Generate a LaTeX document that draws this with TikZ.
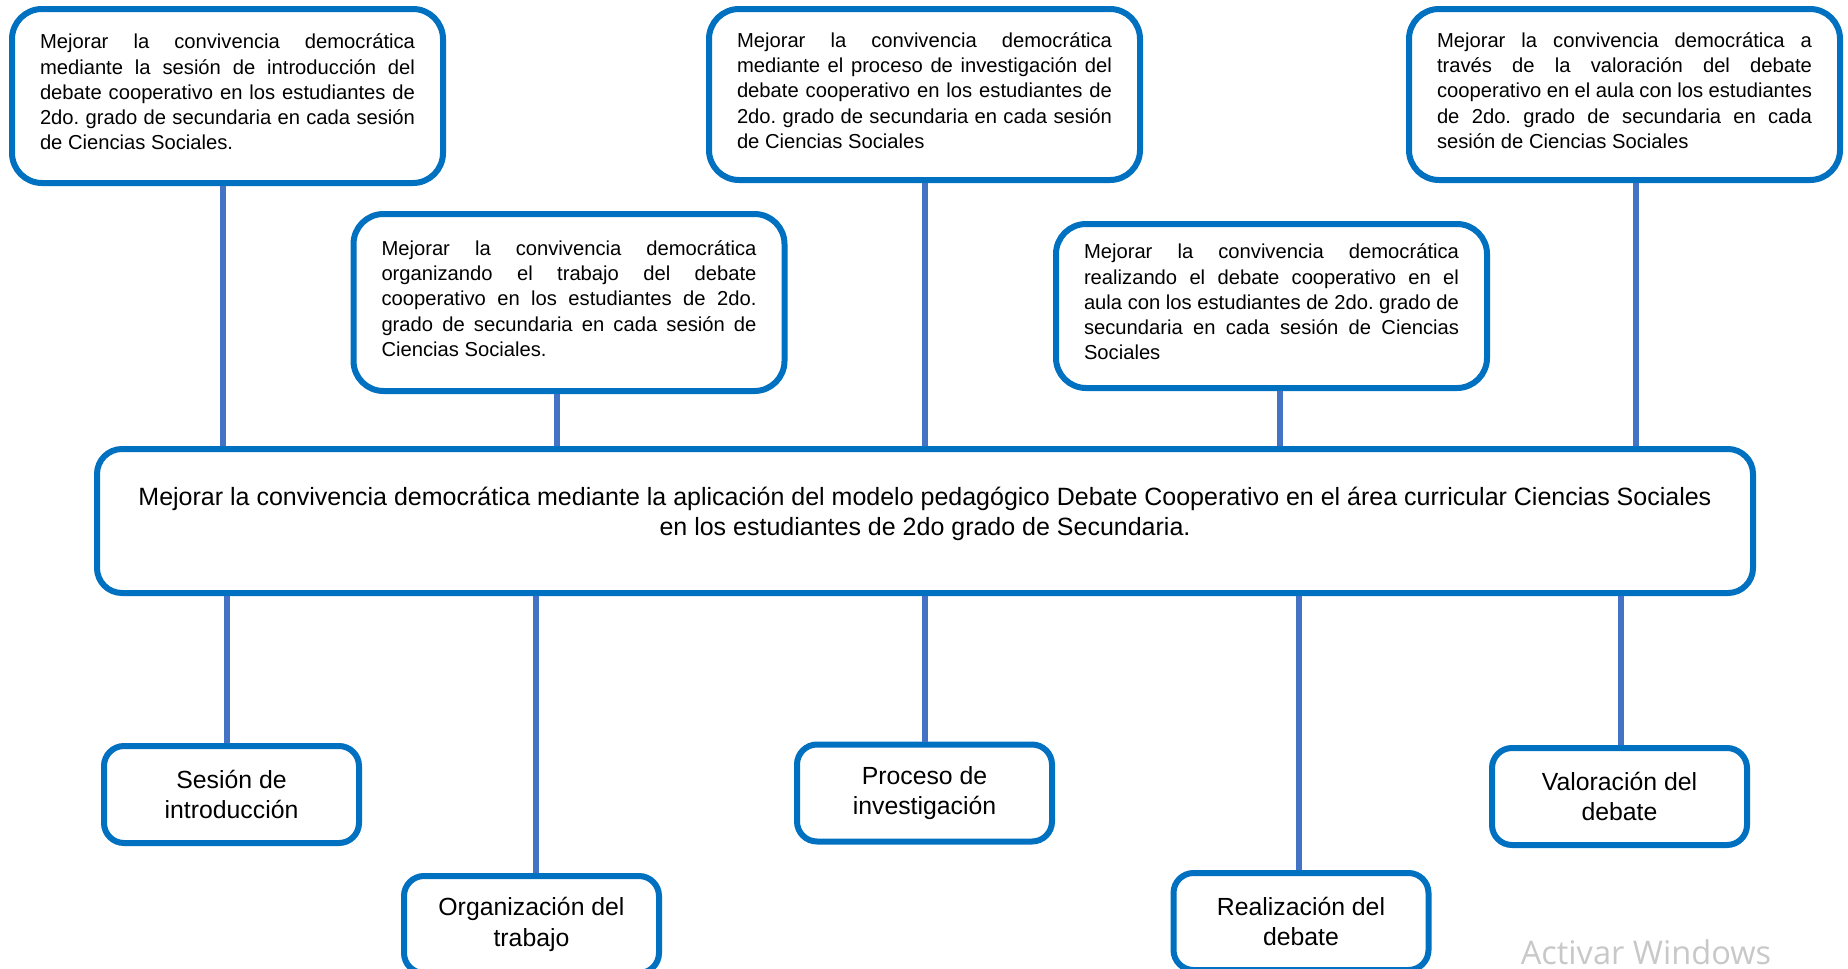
\documentclass[tikz,border=0pt]{standalone}
\usepackage{fontspec}
\setmainfont{Liberation Sans}
\newfontfamily\wmfont{Open Sans}
\setlength{\parindent}{0pt}
\tolerance=10000
\hyphenpenalty=10000
\exhyphenpenalty=10000
\frenchspacing
\definecolor{boxblue}{HTML}{0070C0}
\definecolor{linkblue}{HTML}{4472C4}
\definecolor{wmgray}{RGB}{200,200,200}
\tikzset{
  goalbox/.style={draw=boxblue, line width=3pt, fill=white, rounded corners=15pt,
    text width=187.5pt, minimum width=215.5pt, inner sep=0pt, align=justify,
    execute at end node={\par\vspace*{4pt}},
    font=\fontsize{10.1}{12.6}\selectfont},
  mainbox/.style={draw=boxblue, line width=3pt, fill=white, rounded corners=12.5pt,
    minimum width=828pt, minimum height=72pt, align=center, inner sep=0pt,
    text depth=9.6pt, font=\fontsize{12.5}{15.3}\selectfont},
  stagebox/.style={draw=boxblue, line width=3pt, fill=white, rounded corners=10pt,
    minimum width=127.5pt, minimum height=48.5pt, align=center, inner sep=0pt,
    font=\fontsize{12.4}{15.3}\selectfont},
  link/.style={draw=linkblue, line width=3pt}
}
\begin{document}
\begin{tikzpicture}[x=0.5pt,y=-0.5pt]
\useasboundingbox (0,0) rectangle (1848,969);

% objetivos especificos
\node[goalbox, minimum height=87pt] (obj1) at (227.5,96) {Mejorar la convivencia democrática\linebreak mediante la sesión de introducción del\linebreak debate cooperativo en los estudiantes de\linebreak 2do. grado de secundaria en cada sesión\linebreak de Ciencias Sociales.};
\node[goalbox, minimum height=88.5pt] (obj2) at (569,302.5) {Mejorar la convivencia democrática\linebreak organizando el trabajo del debate\linebreak cooperativo en los estudiantes de 2do.\linebreak grado de secundaria en cada sesión de\linebreak Ciencias Sociales.};
\node[goalbox, minimum height=85.5pt] (obj3) at (924.5,94.5) {Mejorar la convivencia democrática\linebreak mediante el proceso de investigación del\linebreak debate cooperativo en los estudiantes de\linebreak 2do. grado de secundaria en cada sesión\linebreak de Ciencias Sociales};
\node[goalbox, minimum height=82pt] (obj4) at (1271.5,306) {Mejorar la convivencia democrática\linebreak realizando el debate cooperativo en el\linebreak aula con los estudiantes de 2do. grado de\linebreak secundaria en cada sesión de Ciencias\linebreak Sociales};
\node[goalbox, minimum height=85.5pt] (obj5) at (1624.5,94.5) {Mejorar la convivencia democrática a\linebreak través de la valoración del debate\linebreak cooperativo en el aula con los estudiantes\linebreak de 2do. grado de secundaria en cada\linebreak sesión de Ciencias Sociales};

% objetivo general
\node[mainbox] (general) at (925,521) {Mejorar la convivencia democrática mediante la aplicación del modelo pedagógico Debate Cooperativo en el área curricular Ciencias Sociales\\en los estudiantes de 2do grado de Secundaria.};

% etapas
\node[stagebox] (sesion) at (231.5,794.5) {Sesión de\\introducción};
\node[stagebox] (organiza) at (531.5,924.5) {Organización del\\trabajo};
\node[stagebox] (proceso) at (924.5,793) {Proceso de\\investigación};
\node[stagebox] (realiza) at (1301,921.5) {Realización del\\debate};
\node[stagebox] (valora) at (1619.5,796.5) {Valoración del\\debate};

% conectores
\draw[link] (obj1.south -| 223,0) -- (general.north -| 223,0);
\draw[link] (obj2.south -| 557,0) -- (general.north -| 557,0);
\draw[link] (obj3.south -| 925,0) -- (general.north -| 925,0);
\draw[link] (obj4.south -| 1280,0) -- (general.north -| 1280,0);
\draw[link] (obj5.south -| 1636,0) -- (general.north -| 1636,0);

\draw[link] (general.south -| 227,0) -- (sesion.north -| 227,0);
\draw[link] (general.south -| 536,0) -- (organiza.north -| 536,0);
\draw[link] (general.south -| 925,0) -- (proceso.north -| 925,0);
\draw[link] (general.south -| 1299,0) -- (realiza.north -| 1299,0);
\draw[link] (general.south -| 1621,0) -- (valora.north -| 1621,0);

\node[text=wmgray, font=\wmfont\fontsize{16.3}{18}\selectfont] (aviso) at (1646,952) {Activar Windows};
\end{tikzpicture}
\end{document}
